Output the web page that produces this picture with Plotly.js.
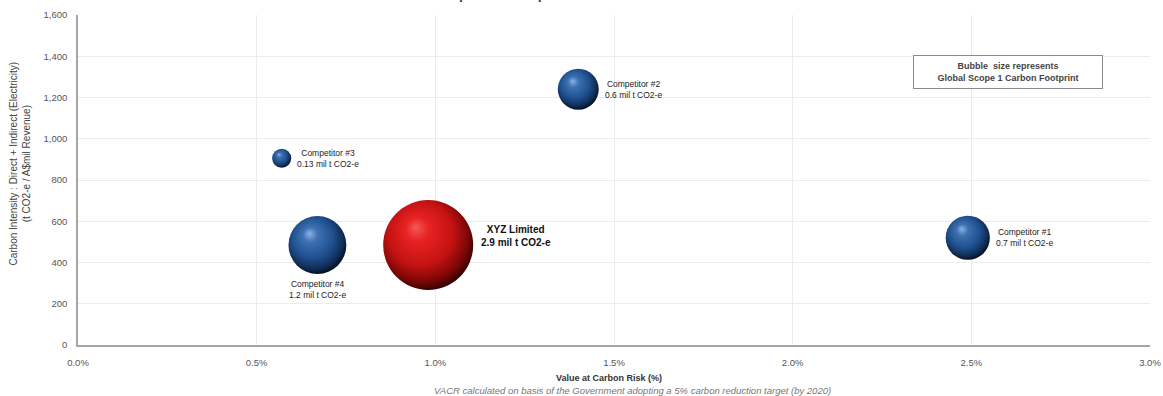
<!DOCTYPE html>
<html>
<head>
<meta charset="utf-8">
<script src="https://cdn.plot.ly/plotly-3.0.1.min.js"></script>
<style>
html,body{margin:0;padding:0;background:#fff;}
#chart{width:1163px;height:396px;}
</style>
</head>
<body>
<div id="chart"></div>
<script>
// ---- data ----
const companies = ["Competitor #3", "Competitor #4", "XYZ Limited", "Competitor #2", "Competitor #1"];
const vacr = [0.57, 0.67, 0.98, 1.40, 2.49];            // Value at Carbon Risk (%)
const intensity = [905, 485, 485, 1240, 520];           // t CO2-e / A$mil revenue
const footprint = [0.13, 1.2, 2.9, 0.6, 0.7];          // mil t CO2-e (Scope 1)
const footprintLabels = ["0.13 mil t CO2-e", "1.2 mil t CO2-e", "2.9 mil t CO2-e", "0.6 mil t CO2-e", "0.7 mil t CO2-e"];
const labelSide = ["right", "below", "right", "right", "right"];
const xTicks = [0, 0.5, 1.0, 1.5, 2.0, 2.5, 3.0];
const xTickLabels = ["0.0%", "0.5%", "1.0%", "1.5%", "2.0%", "2.5%", "3.0%"];
const yTicks = [0, 200, 400, 600, 800, 1000, 1200, 1400, 1600];

const FONT = '"Liberation Sans Narrow", "Arial Narrow", "Liberation Sans", Arial, sans-serif';
const SIZEREF = 0.000716;
const isFocus = companies.map(c => c === "XYZ Limited");

const trace = {
  type: 'scatter',
  mode: 'markers',
  x: vacr,
  y: intensity,
  text: companies,
  hoverinfo: 'text',
  marker: {
    size: footprint,
    sizemode: 'area',
    sizeref: SIZEREF,
    color: isFocus.map(f => f ? '#5a0000' : '#08203f'),
    opacity: 1,
    line: {width: 0},
    gradient: {type: 'radial', color: isFocus.map(f => f ? '#f04040' : '#6f9bd0')}
  },
  showlegend: false
};

function radiusOf(v) { return Math.sqrt(2 * v / SIZEREF) / 2; }

const annotations = [];
companies.forEach((c, i) => {
  const r = radiusOf(footprint[i]);
  const bold = isFocus[i];
  const txt = bold ? '<b>' + c + '</b><br><b>' + footprintLabels[i] + '</b>' : c + '<br>' + footprintLabels[i];
  const a = {
    x: vacr[i], y: intensity[i], xref: 'x', yref: 'y', text: txt, showarrow: false,
    align: 'center',
    font: {family: FONT, size: bold ? 10 : 8.5, color: bold ? '#111' : '#222'}
  };
  if (labelSide[i] === 'below') {
    a.xanchor = 'center'; a.yanchor = 'top'; a.yshift = -(r + 3);
  } else {
    a.xanchor = 'left'; a.yanchor = 'middle'; a.xshift = r + (bold ? 6 : 4);
    if (bold) a.yshift = 9;
  }
  annotations.push(a);
});

annotations.push({
  xref: 'paper', yref: 'paper', x: 0.8675, y: 0.827, xanchor: 'center', yanchor: 'middle',
  text: '<b>Bubble  size represents</b><br><b>Global Scope 1 Carbon Footprint</b>',
  showarrow: false, align: 'center', width: 186, height: 30,
  bordercolor: '#8a8a8a', borderwidth: 1, borderpad: 1, bgcolor: '#ffffff',
  font: {family: FONT, size: 9, color: '#444'}
});
annotations.push({
  xref: 'paper', yref: 'paper', x: 0.5, y: 0, xanchor: 'center', yanchor: 'middle', yshift: -33, xshift: -5,
  text: '<b>Value at Carbon Risk (%)</b>', showarrow: false,
  font: {family: FONT, size: 9, color: '#333'}
});
annotations.push({
  xref: 'paper', yref: 'paper', x: 0.5, y: 0, xanchor: 'center', yanchor: 'middle', yshift: -45, xshift: 18,
  text: '<i>VACR calculated on basis of the Government adopting a 5% carbon reduction target (by 2020)</i>',
  showarrow: false, font: {family: FONT, size: 9.5, color: '#777'}
});
annotations.push({
  xref: 'paper', yref: 'paper', x: 0.443, y: 1, xanchor: 'center', yanchor: 'bottom', yshift: 11,
  text: '<b>Competitor Comparison: XYZ Limited</b>', showarrow: false,
  font: {family: '"Liberation Sans", Arial, sans-serif', size: 14, color: '#444'}
});
annotations.push({
  xref: 'paper', yref: 'paper', x: 0, y: 0.55, xanchor: 'center', yanchor: 'middle', xshift: -58,
  textangle: -90,
  text: 'Carbon Intensity : Direct + Indirect (Electricity)<br>(t CO2-e / A$mil Revenue)',
  showarrow: false, align: 'center', font: {family: FONT, size: 10, color: '#444'}
});

const layout = {
  width: 1163, height: 396,
  margin: {l: 78, r: 13, t: 15, b: 51},
  paper_bgcolor: '#ffffff', plot_bgcolor: '#ffffff',
  font: {family: FONT, size: 10, color: '#555'},
  xaxis: {
    range: [0, 3.0], tickvals: xTicks, ticktext: xTickLabels,
    showgrid: true, gridcolor: '#ececec', gridwidth: 1,
    showline: true, linecolor: '#a6a6a6', linewidth: 1.5,
    zeroline: false, ticks: '', ticklabelstandoff: 8,
    tickfont: {family: FONT, size: 9.5, color: '#555'}
  },
  yaxis: {
    range: [0, 1600], tickvals: yTicks, tickformat: ',d',
    showgrid: true, gridcolor: '#ececec', gridwidth: 1,
    showline: true, linecolor: '#a6a6a6', linewidth: 1.5,
    zeroline: false, ticks: '', ticklabelstandoff: 7,
    tickfont: {family: FONT, size: 9.5, color: '#555'}
  },
  annotations: annotations,
  hovermode: 'closest'
};

function shadeSpheres(gd) {
  gd.querySelectorAll('radialGradient').forEach(g => {
    const stops = g.querySelectorAll('stop');
    if (!stops.length) return;
    const all = Array.from(stops).map(s => (s.getAttribute('stop-color') || '').toLowerCase()).join('|');
    const red = /240|f04040|5a0000|rgb\(90/.test(all);
    const palette = red
      ? [[0, '#f25a5a'], [0.22, '#e82222'], [0.6, '#c41212'], [0.85, '#7a0606'], [1, '#2a0000']]
      : [[0, '#8db3e2'], [0.22, '#3d71b2'], [0.6, '#1f4f8d'], [0.85, '#0f2c55'], [1, '#030b18']];
    while (g.firstChild) g.removeChild(g.firstChild);
    palette.forEach(p => {
      const s = document.createElementNS('http://www.w3.org/2000/svg', 'stop');
      s.setAttribute('offset', (p[0] * 100) + '%');
      s.setAttribute('stop-color', p[1]);
      s.setAttribute('stop-opacity', '1');
      g.appendChild(s);
    });
    g.setAttribute('cx', '0.45'); g.setAttribute('cy', '0.42');
    g.setAttribute('r', '0.6');
    g.setAttribute('fx', '0.36'); g.setAttribute('fy', '0.3');
  });
}

Plotly.newPlot('chart', [trace], layout, {displayModeBar: false, responsive: false}).then(shadeSpheres);
</script>
</body>
</html>
